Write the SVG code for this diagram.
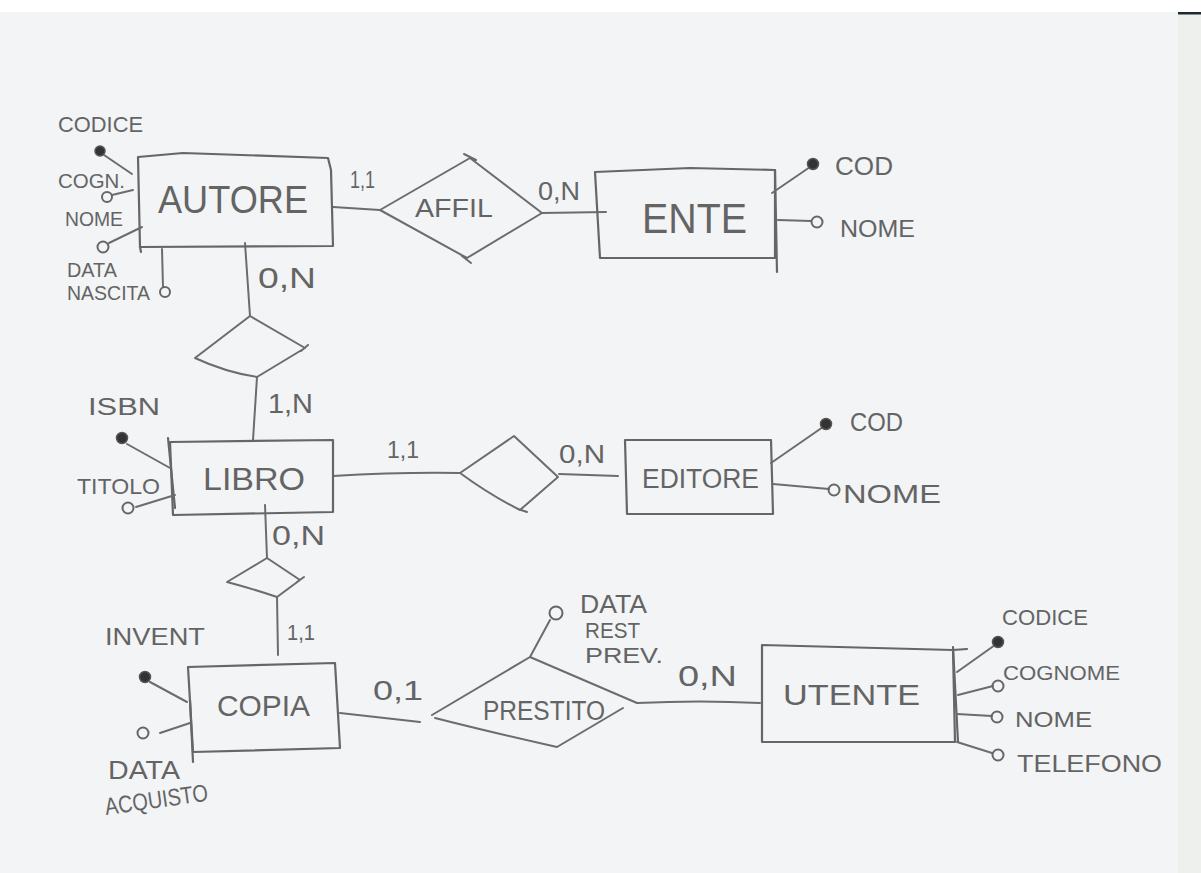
<svg xmlns="http://www.w3.org/2000/svg" width="1201" height="873" viewBox="0 0 1201 873">
<style>
.ln{stroke:#6c6c6c;stroke-width:2;fill:none;stroke-linecap:round;stroke-linejoin:round}
.bx{stroke:#666;stroke-width:2.2;fill:none;stroke-linecap:round;stroke-linejoin:round}
.key{fill:#333;stroke:#555;stroke-width:1.5}
.att{fill:none;stroke:#666;stroke-width:2}
.t{font-family:"Liberation Sans","DejaVu Sans",sans-serif;fill:#646464}
</style>
<rect x="0" y="0" width="1201" height="873" fill="#f3f4f6"/>
<rect x="0" y="0" width="1201" height="12" fill="#ffffff"/>
<rect x="1178" y="0" width="23" height="873" fill="#eef0ed"/>
<rect x="1178" y="0" width="23" height="12" fill="#ffffff"/>
<rect x="1178" y="12" width="23" height="2.5" fill="#1e2a30"/>

<g id="connectors">
  <path class="ln" d="M333,207 L380,210"/>
  <path class="ln" d="M542,213 L606,212"/>
  <path class="ln" d="M245,243 L250,316"/>
  <path class="ln" d="M257,377 L253,440"/>
  <path class="ln" d="M333,476 Q400,472 460,473"/>
  <path class="ln" d="M559,474 L618,476"/>
  <path class="ln" d="M265,505 L267,558"/>
  <path class="ln" d="M277,597 L278,655"/>
  <path class="ln" d="M340,713 L420,722"/>
  <path class="ln" d="M637,703 Q700,700 760,703"/>
  <text class="t" x="350" y="188" font-size="24" textLength="25" lengthAdjust="spacingAndGlyphs">1,1</text>
  <text class="t" x="538" y="200" font-size="25" textLength="42" lengthAdjust="spacingAndGlyphs">0,N</text>
  <text class="t" x="258" y="288" font-size="30" textLength="58" lengthAdjust="spacingAndGlyphs">0,N</text>
  <text class="t" x="268" y="413" font-size="28" textLength="45" lengthAdjust="spacingAndGlyphs">1,N</text>
  <text class="t" x="387" y="458" font-size="24" textLength="32" lengthAdjust="spacingAndGlyphs">1,1</text>
  <text class="t" x="559" y="463" font-size="26" textLength="46" lengthAdjust="spacingAndGlyphs">0,N</text>
  <text class="t" x="272" y="545" font-size="28" textLength="53" lengthAdjust="spacingAndGlyphs">0,N</text>
  <text class="t" x="287" y="640" font-size="22" textLength="28" lengthAdjust="spacingAndGlyphs">1,1</text>
  <text class="t" x="373" y="700" font-size="28" textLength="50" lengthAdjust="spacingAndGlyphs">0,1</text>
  <text class="t" x="678" y="686" font-size="30" textLength="59" lengthAdjust="spacingAndGlyphs">0,N</text>
</g>

<g id="autore">
  <path class="bx" d="M138,157 L183,153 L328,158 L331,170 L333,246 L140,247 Z"/>
  <path class="bx" d="M140,247 L141,252"/>
  <text class="t" x="158" y="213" font-size="39" textLength="150" lengthAdjust="spacingAndGlyphs">AUTORE</text>
  <text class="t" x="58" y="132" font-size="22" textLength="85" lengthAdjust="spacingAndGlyphs">CODICE</text>
  <line class="ln" x1="104" y1="155" x2="132" y2="174"/>
  <circle class="key" cx="100" cy="151" r="5"/>
  <text class="t" x="58" y="188" font-size="21" textLength="67" lengthAdjust="spacingAndGlyphs">COGN.</text>
  <line class="ln" x1="112" y1="195" x2="133" y2="190"/>
  <circle class="att" cx="107" cy="197" r="5"/>
  <text class="t" x="65" y="226" font-size="21" textLength="58" lengthAdjust="spacingAndGlyphs">NOME</text>
  <line class="ln" x1="109" y1="243" x2="142" y2="227"/>
  <circle class="att" cx="103" cy="247" r="5.5"/>
  <text class="t" x="67" y="277" font-size="20" textLength="50" lengthAdjust="spacingAndGlyphs">DATA</text>
  <text class="t" x="67" y="300" font-size="20" textLength="83" lengthAdjust="spacingAndGlyphs">NASCITA</text>
  <line class="ln" x1="162" y1="249" x2="163" y2="287"/>
  <circle class="att" cx="165" cy="292" r="5"/>
</g>

<g id="affil">
  <path class="ln" d="M380,210 L470,158 M464,154 L476,160 M470,158 L542,213 L467,258 M471,263 L462,256 M467,258 L380,210"/>
  <text class="t" x="415" y="217" font-size="26" textLength="78" lengthAdjust="spacingAndGlyphs">AFFIL</text>
</g>

<g id="ente">
  <path class="bx" d="M595,172 L690,168 L775,170 L775,258 L600,258 Z"/>
  <path class="bx" d="M775,170 L777,272"/>
  <text class="t" x="642" y="233" font-size="42" textLength="105" lengthAdjust="spacingAndGlyphs">ENTE</text>
  <line class="ln" x1="772" y1="193" x2="810" y2="167"/>
  <circle class="key" cx="813" cy="164" r="5.5"/>
  <text class="t" x="835" y="175" font-size="25" textLength="58" lengthAdjust="spacingAndGlyphs">COD</text>
  <line class="ln" x1="778" y1="220" x2="811" y2="221"/>
  <circle class="att" cx="817" cy="222" r="5.5"/>
  <text class="t" x="840" y="237" font-size="24" textLength="75" lengthAdjust="spacingAndGlyphs">NOME</text>
</g>

<g id="scrive">
  <path class="ln" d="M250,316 L305,348 M301,351 L308,345 M305,348 L257,377 Q225,372 195,358 L250,316"/>
</g>

<g id="libro">
  <path class="bx" d="M170,442 L333,440 L333,512 L173,515 Z"/>
  <path class="bx" d="M168,438 L175,508"/>
  <text class="t" x="203" y="490" font-size="32" textLength="102" lengthAdjust="spacingAndGlyphs">LIBRO</text>
  <text class="t" x="88" y="415" font-size="24" textLength="72" lengthAdjust="spacingAndGlyphs">ISBN</text>
  <line class="ln" x1="127" y1="444" x2="170" y2="468"/>
  <circle class="key" cx="122" cy="438" r="5.5"/>
  <text class="t" x="77" y="494" font-size="22" textLength="83" lengthAdjust="spacingAndGlyphs">TITOLO</text>
  <line class="ln" x1="136" y1="507" x2="175" y2="495"/>
  <circle class="att" cx="128" cy="508" r="5.5"/>
</g>

<g id="pubblica">
  <path class="ln" d="M460,473 L514,436 L558,477 L520,510 M527,512 L518,509 M520,510 Q490,495 460,473"/>
</g>

<g id="editore">
  <path class="bx" d="M625,440 L771,440 L773,514 L627,514 Z"/>
  <text class="t" x="642" y="488" font-size="27" textLength="117" lengthAdjust="spacingAndGlyphs">EDITORE</text>
  <line class="ln" x1="771" y1="463" x2="823" y2="427"/>
  <circle class="key" cx="826" cy="424" r="5.5"/>
  <text class="t" x="850" y="431" font-size="25" textLength="53" lengthAdjust="spacingAndGlyphs">COD</text>
  <line class="ln" x1="773" y1="484" x2="829" y2="489"/>
  <circle class="att" cx="834" cy="490" r="5.5"/>
  <text class="t" x="843" y="503" font-size="25" textLength="98" lengthAdjust="spacingAndGlyphs">NOME</text>
</g>

<g id="esemplare">
  <path class="ln" d="M267,558 L300,580 M297,582 L304,577 M300,580 L277,597 Q250,588 227,582 L267,558"/>
</g>

<g id="copia">
  <path class="bx" d="M188,667 L335,663 L340,748 L193,752 Z"/>
  <path class="bx" d="M190,700 L193,762"/>
  <text class="t" x="217" y="716" font-size="30" textLength="93" lengthAdjust="spacingAndGlyphs">COPIA</text>
  <text class="t" x="105" y="645" font-size="24" textLength="100" lengthAdjust="spacingAndGlyphs">INVENT</text>
  <line class="ln" x1="150" y1="682" x2="187" y2="702"/>
  <circle class="key" cx="145" cy="677" r="5.5"/>
  <line class="ln" x1="160" y1="733" x2="190" y2="723"/>
  <circle class="att" cx="143" cy="733" r="5.5"/>
  <text class="t" x="108" y="779" font-size="26" textLength="72" lengthAdjust="spacingAndGlyphs">DATA</text>
  <text class="t" x="106" y="815" font-size="24" textLength="104" lengthAdjust="spacingAndGlyphs" transform="rotate(-8 106 815)">ACQUISTO</text>
</g>

<g id="prestito">
  <path class="ln" d="M432,715 L530,657 L637,703 M623,708 L557,747 Q490,732 435,718"/>
  <text class="t" x="483" y="720" font-size="27" textLength="122" lengthAdjust="spacingAndGlyphs">PRESTITO</text>
  <line class="ln" x1="530" y1="657" x2="550" y2="620"/>
  <circle class="att" cx="556" cy="613" r="6.5"/>
  <text class="t" x="580" y="613" font-size="26" textLength="67" lengthAdjust="spacingAndGlyphs">DATA</text>
  <text class="t" x="585" y="638" font-size="22" textLength="55" lengthAdjust="spacingAndGlyphs">REST</text>
  <text class="t" x="585" y="663" font-size="22" textLength="78" lengthAdjust="spacingAndGlyphs">PREV.</text>
</g>

<g id="utente">
  <path class="bx" d="M762,645 L953,650 L955,742 L762,742 Z"/>
  <path class="bx" d="M953,650 L967,649 M953,647 L958,742"/>
  <text class="t" x="783" y="705" font-size="30" textLength="137" lengthAdjust="spacingAndGlyphs">UTENTE</text>
  <text class="t" x="1002" y="625" font-size="22" textLength="86" lengthAdjust="spacingAndGlyphs">CODICE</text>
  <line class="ln" x1="957" y1="672" x2="995" y2="645"/>
  <circle class="key" cx="998" cy="642" r="5.5"/>
  <text class="t" x="1003" y="680" font-size="20" textLength="117" lengthAdjust="spacingAndGlyphs">COGNOME</text>
  <line class="ln" x1="958" y1="695" x2="993" y2="686"/>
  <circle class="att" cx="998" cy="686" r="5.5"/>
  <line class="ln" x1="957" y1="714" x2="992" y2="716"/>
  <circle class="att" cx="997" cy="717" r="5.5"/>
  <text class="t" x="1015" y="727" font-size="22" textLength="77" lengthAdjust="spacingAndGlyphs">NOME</text>
  <line class="ln" x1="957" y1="742" x2="992" y2="753"/>
  <circle class="att" cx="998" cy="755" r="5.5"/>
  <text class="t" x="1017" y="772" font-size="24" textLength="145" lengthAdjust="spacingAndGlyphs">TELEFONO</text>
</g>
</svg>
